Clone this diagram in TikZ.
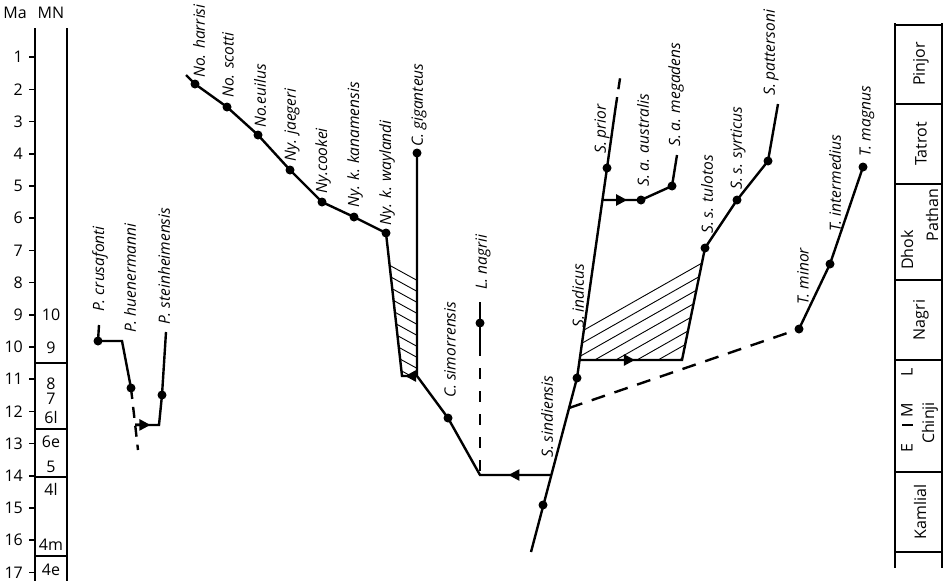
\documentclass[tikz,border=0pt]{standalone}
\usepackage{fontspec}
\setmainfont{Open Sans}
\usetikzlibrary{arrows.meta,calc}

\begin{document}
\begin{tikzpicture}[x=1pt,y=-1pt,line cap=butt,line join=miter,
	br/.style={line width=2.4pt},
	dsh/.style={br,dash pattern=#1},
	tip/.style={br,-{Triangle[length=11pt,width=11pt]}},
	ax/.style={line width=1.5pt},
	hl/.style={line width=.9pt},
	sp/.style={rotate=90,anchor=west,inner sep=0pt,font=\fontsize{15.5}{17}\selectfont\itshape},
	num/.style={inner sep=0pt,font=\fontsize{16}{16}\selectfont},
	fm/.style={rotate=90,inner sep=0pt,font=\fontsize{16}{16}\selectfont}]
	\useasboundingbox (0,0) rectangle (945,581);
	% time scale (Ma) and MN units
	\node[num] (ma) at (15,13) {Ma};
	\node[num] (mn) at (51,13) {MN};
	\draw[ax] (35,28) -- (35,581) (67,28) -- (67,581);
	\foreach \m in {1,...,17}{
		\draw[ax] (29,{25+32.2*\m}) -- (35,{25+32.2*\m});
		\node[num,anchor=east] (ma\m) at (23,{25+32.2*\m}) {\m};
	}
	\foreach \y in {363,429,477,556} \draw[ax] (35,\y) -- (67,\y);
	\foreach \t/\y [count=\i] in {10/315,9/348,8/384,7/399,6l/417,6e/442,5/467,4l/489,4m/545,4e/570}
		\node[num] (mn\i) at (51,\y) {\t};
	% Siwalik formations
	\draw[ax] (895,23) -- (895,568) (942,23) -- (942,568);
	\foreach \y in {25,104,184,280,360,472,552} \draw[ax] (895,\y) -- (942,\y);
	\draw[ax] (902,425) -- (913,425);
	\node[fm] (pinj) at (921,64) {Pinjor};
	\node[fm] (tatr) at (921,144) {Tatrot};
	\node[fm] (dhok) at (907,250) {Dhok};
	\node[fm] (path) at (932,215) {Pathan};
	\node[fm] (nagr) at (921,320) {Nagri};
	\node[fm] (chin) at (930,423) {Chinji};
	\node[fm] (chE) at (907,448) {E};
	\node[fm] (chM) at (907,410) {M};
	\node[fm] (chL) at (907,372) {L};
	\node[fm] (kaml) at (920,512) {Kamlial};
	% branch points
	\coordinate (crusT) at (99,325);
	\coordinate (crus) at (98,341);
	\coordinate (crusC) at (122,341);
	\coordinate (huen) at (131,388);
	\coordinate (huenE) at (138,450);
	\coordinate (huenJ) at ($(huen)!.595!(huenE)$);
	\coordinate (steiT) at (166,332);
	\coordinate (stei) at (162,395);
	\coordinate (steiC) at (159,425);
	\coordinate (noT) at (186,75);
	\coordinate (harr) at (195,84);
	\coordinate (scot) at (227,107);
	\coordinate (euil) at (258,135);
	\coordinate (jaeg) at (290,170);
	\coordinate (cook) at (322,202);
	\coordinate (kana) at (354,217);
	\coordinate (wayl) at (386,233);
	\coordinate (nyB) at (402,376);
	\coordinate (giga) at (417,153);
	\coordinate (cJ) at (417,376);
	\coordinate (simo) at (448,418);
	\coordinate (sK) at (480,475);
	\coordinate (nagT) at (480,302);
	\coordinate (nagi) at (480,323);
	\coordinate (nagB) at (480,345);
	\coordinate (sB) at (531,552);
	\coordinate (sind) at (543,505);
	\coordinate (sJ) at (551,475);
	\coordinate (tJ) at (569,408);
	\coordinate (indi) at (577,378);
	\coordinate (sH) at (579.6,360);
	\coordinate (sA) at (602.5,200);
	\coordinate (prio) at (607,168);
	\coordinate (sT) at (615.5,108);
	\coordinate (sD) at (621,72);
	\coordinate (aust) at (641,200);
	\coordinate (mega) at (672,186);
	\coordinate (megT) at (677,155);
	\coordinate (sR) at (682,360);
	\coordinate (tulo) at (705,248);
	\coordinate (syrt) at (737,200);
	\coordinate (patt) at (768,161);
	\coordinate (pattT) at (778,104);
	\coordinate (tmin) at (799,329);
	\coordinate (tint) at (830,264);
	\coordinate (tmag) at (863,167);
	% hatched spans
	\begin{scope}
		\clip (389.6,264) -- (417,279) -- (417,376) -- (402,376) -- cycle;
		\foreach \k in {0,...,10} \draw[hl] (380,{260+11*\k}) -- ++(45,24.75);
	\end{scope}
	\begin{scope}
		\clip (583.9,329) -- (702,262) -- (682,360) -- (579.6,360) -- cycle;
		\foreach \k in {0,...,8} \draw[hl] (570,{338+12*\k}) -- ++(150,-85.2);
	\end{scope}
	% lineages
	\draw[br] (crusT) -- (crus) -- (crusC) -- (huen);
	\draw[dsh=on 11pt off 8pt] (huen) -- (huenE);
	\draw[br] (steiT) -- (stei) -- (steiC) -- (huenJ);
	\draw[tip] (huenJ) -- ($(huenJ)!.64!(steiC)$);
	\draw[br] (noT) -- (harr) -- (scot) -- (euil) -- (jaeg) -- (cook) -- (kana) -- (wayl) -- (nyB) -- (cJ);
	\draw[br] (giga) -- (cJ) -- (simo) -- (sK) -- (sJ);
	\draw[tip] (cJ) -- ($(cJ)!.8!(nyB)$);
	\draw[tip] (sJ) -- ($(sJ)!.6!(sK)$);
	\draw[br] (nagT) -- (nagB);
	\draw[dsh=on 11pt off 12pt] (nagB) -- (sK);
	\draw[br] (sB) -- (indi) -- (prio) -- (sT);
	\draw[dsh=on 11pt off 8pt] (sT) -- (sD);
	\draw[br] (sA) -- (aust) -- (mega) -- (megT);
	\draw[tip] (sA) -- ($(sA)!.64!(aust)$);
	\draw[br] (sH) -- (sR) -- (tulo) -- (syrt) -- (patt) -- (pattT);
	\draw[tip] (sH) -- ($(sH)!.54!(sR)$);
	\draw[dsh=on 14pt off 10pt] (tJ) -- (tmin);
	\draw[br] (tmin) -- (tint) -- (tmag);
	\foreach \p in {crus,huen,stei,harr,scot,euil,jaeg,cook,kana,wayl,giga,simo,nagi,sind,indi,prio,aust,mega,tulo,syrt,patt,tmin,tint,tmag}
		\fill (\p) circle (4.5pt);
	% taxa
	\node[sp] (lcrus) at (100,312) {P. crusafonti};
	\node[sp] (lhuen) at (130,333) {P. huenermanni};
	\node[sp] (lstei) at (164,325) {P. steinheimensis};
	\node[sp] (lharr) at (199,78) {No. harrisi};
	\node[sp] (lscot) at (228,98) {No. scotti};
	\node[sp] (leuil) at (260,128) {No.euilus};
	\node[sp] (ljaeg) at (292,162) {Ny. jaegeri};
	\node[sp] (lcook) at (323,194) {Ny.cookei};
	\node[sp] (lkana) at (355,208) {Ny. k. kanamensis};
	\node[sp] (lwayl) at (387,226) {Ny. k. waylandi};
	\node[sp] (lgiga) at (419,147) {C. giganteus};
	\node[sp] (lsimo) at (450,398) {C. simorrensis};
	\node[sp] (lnagi) at (483,290) {L. nagrii};
	\node[sp] (lsind) at (547,458) {S. sindiensis};
	\node[sp] (lindi) at (578,328) {S. indicus};
	\node[sp] (lprio) at (602,154) {S. prior};
	\node[sp] (laust) at (643,187) {S. a. australis};
	\node[sp] (lmega) at (676,147) {S. a. megadens};
	\node[sp] (ltulo) at (707,234) {S. s. tulotos};
	\node[sp] (lsyrt) at (738,190) {S. s. syrticus};
	\node[sp] (lpatt) at (771,96) {S. pattersoni};
	\node[sp] (ltmin) at (803,305) {T. minor};
	\node[sp] (ltint) at (835,232) {T. intermedius};
	\node[sp] (ltmag) at (867,157) {T. magnus};
\end{tikzpicture}
\end{document}
